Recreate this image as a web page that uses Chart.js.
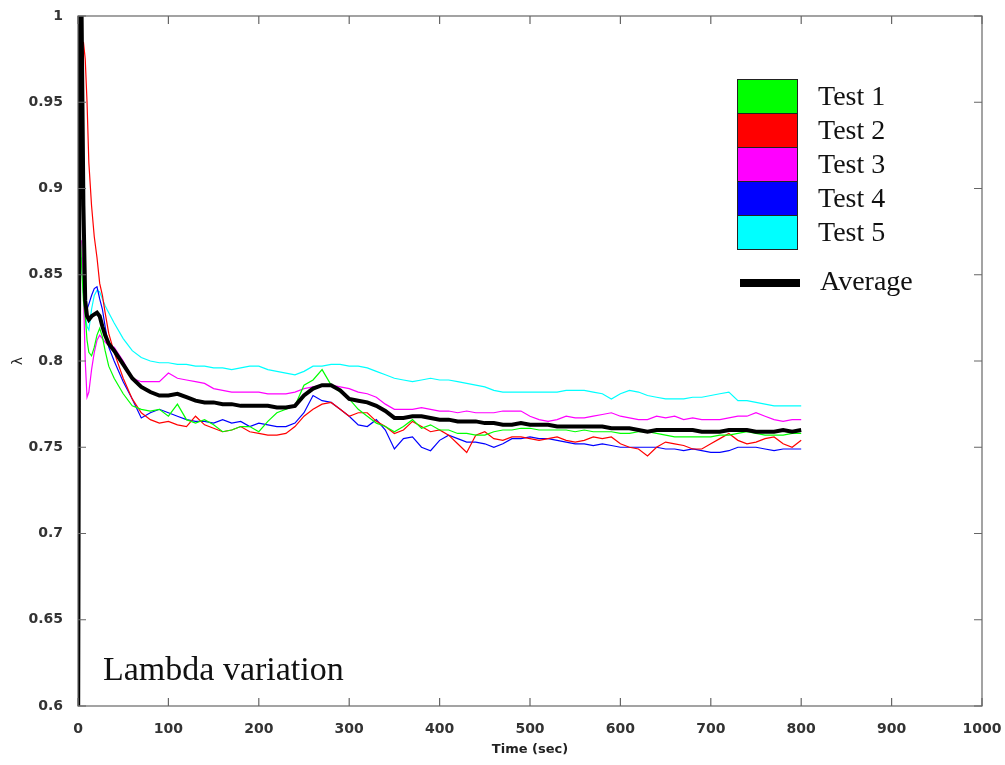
<!DOCTYPE html>
<html lang="en">
<head>
<meta charset="UTF-8">
<title>Lambda variation</title>
<script src="https://cdn.jsdelivr.net/npm/chart.js"></script>
<style>
  body { margin: 0; background: #fff; }
  #wrap { position: relative; width: 1005px; height: 765px; }
  .serif { position: absolute; font-family: "Liberation Serif", "Times New Roman", serif; color: #111; white-space: nowrap; }
  #legendBox { position: absolute; left: 737px; top: 79px; width: 59px; border: 1.5px solid #222; }
  #legendBox div { height: 33px; border-top: 1.5px solid #222; }
  #legendBox div:first-child { border-top: none; }
  #avgLine { position: absolute; left: 740px; top: 279px; width: 60px; height: 8px; background: #000; }
</style>
</head>
<body>
<div id="wrap">
  <canvas id="myChart"></canvas>
  <div id="legendBox"></div>
  <div id="legendText"></div>
  <div id="avgLine"></div>
  <div class="serif" style="left:820px; top:264px; font-size:28px; line-height:34px;">Average</div>
  <div class="serif" style="left:103px; top:652px; font-size:34px; line-height:34px;">Lambda variation</div>
</div>

<script>
// time (sec)
const times = [0, 2, 4, 6, 8, 10, 12, 15, 18, 21, 24, 27, 30, 34,
  40, 50, 60, 70, 80, 90, 100, 110, 120, 130, 140, 150, 160, 170, 180, 190,
  200, 210, 220, 230, 240, 250, 260, 270, 280, 290, 300, 310, 320, 330, 340,
  350, 360, 370, 380, 390, 400, 410, 420, 430, 440, 450, 460, 470, 480, 490,
  500, 510, 520, 530, 540, 550, 560, 570, 580, 590, 600, 610, 620, 630, 640,
  650, 660, 670, 680, 690, 700, 710, 720, 730, 740, 750, 760, 770, 780, 790, 800];

const test1 = [null, 0.88, 0.855, 0.835, 0.826, 0.812, 0.805, 0.803, 0.808, 0.815, 0.819, 0.814, 0.806, 0.797,
  0.790, 0.781, 0.774, 0.772, 0.771, 0.772, 0.768, 0.775, 0.766, 0.764, 0.766, 0.763, 0.759, 0.760, 0.762, 0.762,
  0.759, 0.765, 0.770, 0.772, 0.774, 0.786, 0.789, 0.795, 0.786, 0.782, 0.778, 0.772, 0.768, 0.764, 0.762,
  0.759, 0.762, 0.766, 0.761, 0.763, 0.760, 0.760, 0.758, 0.758, 0.757, 0.757, 0.759, 0.760, 0.760, 0.761,
  0.761, 0.760, 0.760, 0.760, 0.760, 0.759, 0.760, 0.759, 0.759, 0.759, 0.758, 0.758, 0.759, 0.759, 0.758,
  0.757, 0.756, 0.756, 0.756, 0.756, 0.756, 0.757, 0.757, 0.758, 0.759, 0.758, 0.757, 0.757, 0.757, 0.758, 0.758];

const test2 = [null, null, null, 0.985, 0.975, 0.95, 0.915, 0.89, 0.872, 0.86, 0.845, 0.838, 0.828, 0.816,
  0.805, 0.790, 0.778, 0.770, 0.766, 0.764, 0.765, 0.763, 0.762, 0.768, 0.763, 0.761, 0.759, 0.760, 0.762, 0.759,
  0.758, 0.757, 0.757, 0.758, 0.762, 0.768, 0.772, 0.775, 0.776, 0.772, 0.768, 0.770, 0.770, 0.765, 0.762,
  0.758, 0.760, 0.765, 0.762, 0.759, 0.760, 0.757, 0.752, 0.747, 0.757, 0.759, 0.755, 0.754, 0.756, 0.756,
  0.755, 0.754, 0.755, 0.756, 0.754, 0.753, 0.754, 0.756, 0.755, 0.756, 0.752, 0.750, 0.749, 0.745, 0.750,
  0.753, 0.752, 0.751, 0.749, 0.749, 0.752, 0.755, 0.758, 0.754, 0.752, 0.753, 0.755, 0.756, 0.752, 0.750, 0.754];

const test3 = [null, null, 0.87, 0.84, 0.80, 0.779, 0.782, 0.795, 0.805, 0.812, 0.815, 0.813, 0.811, 0.809,
  0.808, 0.800, 0.790, 0.788, 0.788, 0.788, 0.793, 0.790, 0.789, 0.788, 0.787, 0.784, 0.783, 0.782, 0.782, 0.782,
  0.782, 0.781, 0.781, 0.781, 0.782, 0.784, 0.785, 0.786, 0.786, 0.785, 0.784, 0.782, 0.781, 0.779, 0.775,
  0.772, 0.772, 0.772, 0.773, 0.772, 0.771, 0.771, 0.770, 0.771, 0.770, 0.770, 0.770, 0.771, 0.771, 0.771,
  0.768, 0.766, 0.765, 0.766, 0.768, 0.767, 0.767, 0.768, 0.769, 0.770, 0.768, 0.767, 0.766, 0.766, 0.768,
  0.767, 0.768, 0.766, 0.767, 0.766, 0.766, 0.766, 0.767, 0.768, 0.768, 0.770, 0.768, 0.766, 0.765, 0.766, 0.766];

const test4 = [null, null, 0.86, 0.84, 0.833, 0.83, 0.833, 0.838, 0.842, 0.843, 0.836, 0.830, 0.82, 0.808,
  0.800, 0.788, 0.778, 0.767, 0.770, 0.772, 0.770, 0.768, 0.766, 0.765, 0.765, 0.764, 0.766, 0.764, 0.765, 0.762,
  0.764, 0.763, 0.762, 0.762, 0.764, 0.770, 0.780, 0.777, 0.776, 0.772, 0.768, 0.763, 0.762, 0.766, 0.760,
  0.749, 0.755, 0.756, 0.750, 0.748, 0.754, 0.757, 0.755, 0.753, 0.753, 0.752, 0.750, 0.752, 0.755, 0.755,
  0.756, 0.755, 0.755, 0.754, 0.753, 0.752, 0.752, 0.751, 0.752, 0.751, 0.750, 0.750, 0.750, 0.750, 0.750,
  0.749, 0.749, 0.748, 0.749, 0.748, 0.747, 0.747, 0.748, 0.750, 0.750, 0.750, 0.749, 0.748, 0.749, 0.749, 0.749];

const test5 = [null, null, null, 0.84, 0.826, 0.82, 0.818, 0.83, 0.838, 0.841, 0.84, 0.836, 0.832, 0.828,
  0.822, 0.813, 0.806, 0.802, 0.800, 0.799, 0.799, 0.798, 0.798, 0.797, 0.797, 0.796, 0.796, 0.795, 0.796, 0.797,
  0.797, 0.795, 0.794, 0.793, 0.792, 0.794, 0.797, 0.797, 0.798, 0.798, 0.797, 0.797, 0.796, 0.794, 0.792,
  0.790, 0.789, 0.788, 0.789, 0.790, 0.789, 0.789, 0.788, 0.787, 0.786, 0.785, 0.783, 0.782, 0.782, 0.782,
  0.782, 0.782, 0.782, 0.782, 0.783, 0.783, 0.783, 0.782, 0.781, 0.778, 0.781, 0.783, 0.782, 0.780, 0.779,
  0.778, 0.778, 0.778, 0.779, 0.779, 0.780, 0.781, 0.782, 0.777, 0.777, 0.776, 0.775, 0.774, 0.774, 0.774, 0.774];

const average = [0.55, 1.02, 1.0, 0.89, 0.835, 0.826, 0.824, 0.826, 0.827, 0.828, 0.826, 0.82, 0.815, 0.81,
  0.806, 0.798, 0.790, 0.785, 0.782, 0.780, 0.780, 0.781, 0.779, 0.777, 0.776, 0.776, 0.775, 0.775, 0.774, 0.774,
  0.774, 0.774, 0.773, 0.773, 0.774, 0.780, 0.784, 0.786, 0.786, 0.783, 0.778, 0.777, 0.776, 0.774, 0.771,
  0.767, 0.767, 0.768, 0.768, 0.767, 0.766, 0.766, 0.765, 0.765, 0.765, 0.764, 0.764, 0.763, 0.763, 0.764,
  0.763, 0.763, 0.763, 0.762, 0.762, 0.762, 0.762, 0.762, 0.762, 0.761, 0.761, 0.761, 0.760, 0.759, 0.760,
  0.760, 0.760, 0.760, 0.760, 0.759, 0.759, 0.759, 0.760, 0.760, 0.760, 0.759, 0.759, 0.759, 0.760, 0.759, 0.760];

const seriesNames = ['Test 1', 'Test 2', 'Test 3', 'Test 4', 'Test 5'];
const seriesColors = ['#00ff00', '#ff0000', '#ff00ff', '#0000ff', '#00ffff'];
const seriesValues = [test1, test2, test3, test4, test5];

const xTicks = [0, 100, 200, 300, 400, 500, 600, 700, 800, 900, 1000];
const yTicks = [0.6, 0.65, 0.7, 0.75, 0.8, 0.85, 0.9, 0.95, 1];

// legend (html)
const box = document.getElementById('legendBox');
const ltext = document.getElementById('legendText');
seriesNames.forEach((name, i) => {
    const cell = document.createElement('div');
    cell.style.background = seriesColors[i];
    box.appendChild(cell);
    const t = document.createElement('div');
    t.className = 'serif';
    t.textContent = name;
    t.style.left = '818px';
    t.style.top = (79 + i * 34) + 'px';
    t.style.fontSize = '28px';
    t.style.lineHeight = '34px';
    ltext.appendChild(t);
});

const toPoints = vals => times.map((t, i) => ({ x: t, y: vals[i] }));

const datasets = [{
    label: 'Average',
    data: toPoints(average),
    borderColor: '#000',
    borderWidth: 4,
    pointRadius: 0,
    tension: 0
}];
seriesNames.forEach((name, i) => {
    datasets.push({
        label: name,
        data: toPoints(seriesValues[i]),
        borderColor: seriesColors[i],
        borderWidth: 1.2,
        pointRadius: 0,
        tension: 0
    });
});

// frame with inward ticks on all sides
const frame = {
    id: 'frame',
    afterDraw(chart) {
        const c = chart.ctx, a = chart.chartArea;
        const xs = chart.scales.x, ys = chart.scales.y;
        c.save();
        c.strokeStyle = '#666';
        c.lineWidth = 1.2;
        c.strokeRect(a.left, a.top, a.right - a.left, a.bottom - a.top);
        c.beginPath();
        xTicks.forEach(v => {
            const px = xs.getPixelForValue(v);
            c.moveTo(px, a.bottom); c.lineTo(px, a.bottom - 8);
            c.moveTo(px, a.top); c.lineTo(px, a.top + 8);
        });
        yTicks.forEach(v => {
            const py = ys.getPixelForValue(v);
            c.moveTo(a.left, py); c.lineTo(a.left + 8, py);
            c.moveTo(a.right, py); c.lineTo(a.right - 8, py);
        });
        c.stroke();
        c.restore();
    }
};

const tickFont = { family: 'DejaVu Sans', size: 14, weight: 'bold' };

const ctx = document.getElementById('myChart').getContext('2d');
const myChart = new Chart(ctx, {
    type: 'line',
    data: { datasets: datasets },
    options: {
        responsive: true,
        maintainAspectRatio: false,
        animation: false,
        layout: { padding: { top: 16, right: 23, left: 0, bottom: 0 } },
        plugins: {
            legend: { display: false },
            tooltip: { enabled: false }
        },
        scales: {
            x: {
                type: 'linear',
                min: 0,
                max: 1000,
                afterFit: s => { s.height = 59; s.paddingRight = 0; s.paddingLeft = 0; },
                afterBuildTicks: s => { s.ticks = xTicks.map(v => ({ value: v })); },
                grid: { display: false },
                border: { display: false },
                ticks: {
                    color: '#333',
                    padding: 7,
                    maxRotation: 0,
                    font: tickFont,
                    callback: v => String(v)
                },
                title: {
                    display: true,
                    text: 'Time (sec)',
                    color: '#222',
                    padding: { top: 0, bottom: 8 },
                    font: { family: 'DejaVu Sans', size: 13, weight: 'bold' }
                }
            },
            y: {
                min: 0.6,
                max: 1,
                afterFit: s => { s.width = 78; s.paddingTop = 0; s.paddingBottom = 0; },
                afterBuildTicks: s => { s.ticks = yTicks.map(v => ({ value: v })); },
                grid: { display: false },
                border: { display: false },
                ticks: {
                    color: '#333',
                    padding: 7,
                    font: tickFont,
                    callback: v => String(+v.toFixed(2))
                },
                title: {
                    display: true,
                    text: 'λ',
                    color: '#222',
                    padding: { top: 10, bottom: 0 },
                    font: { family: 'DejaVu Sans', size: 14 }
                }
            }
        }
    },
    plugins: [frame]
});
</script>
</body>
</html>
